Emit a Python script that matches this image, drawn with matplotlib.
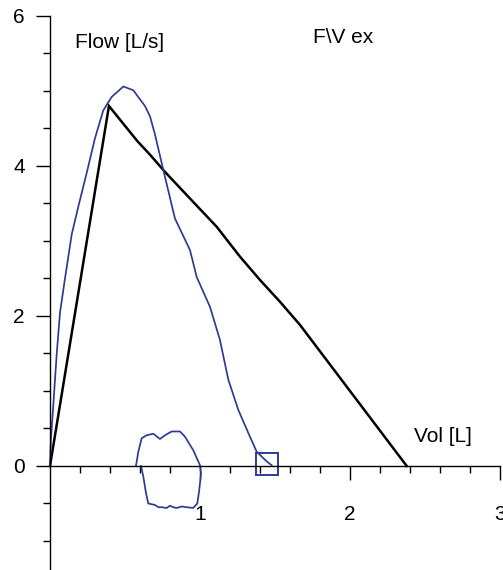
import numpy as np
import matplotlib
matplotlib.use('Agg')
import matplotlib.pyplot as plt

plt.rcParams['font.family'] = ['Liberation Sans', 'DejaVu Sans']

# measured expiratory curve (blue)
exp_vol = [0.0, 0.006, 0.022, 0.045, 0.067, 0.1, 0.145, 0.189, 0.245, 0.3, 0.355, 0.411,
           0.489, 0.555, 0.633, 0.667, 0.70, 0.755, 0.833, 0.933, 0.978, 1.067, 1.133,
           1.189, 1.255, 1.333, 1.378, 1.445, 1.478]
exp_flow = [0.0, 0.35, 0.81, 1.50, 2.05, 2.50, 3.09, 3.46, 3.91, 4.37, 4.74, 4.92,
            5.06, 5.01, 4.80, 4.66, 4.42, 3.95, 3.30, 2.88, 2.52, 2.12, 1.68,
            1.15, 0.75, 0.39, 0.19, 0.06, 0.01]

# small inspiratory loop (blue)
insp_vol = [0.573, 0.589, 0.611, 0.645, 0.689, 0.733, 0.767, 0.811, 0.867, 0.9, 0.955, 1.0,
            1.007, 0.995, 0.982, 0.955, 0.911, 0.878, 0.845, 0.822, 0.8, 0.778, 0.745,
            0.722, 0.7, 0.655, 0.64, 0.622, 0.607]
insp_flow = [0.0, 0.19, 0.37, 0.41, 0.43, 0.36, 0.41, 0.46, 0.46, 0.39, 0.21, 0.01,
             -0.10, -0.32, -0.50, -0.56, -0.55, -0.54, -0.56, -0.55, -0.53, -0.56, -0.55,
             -0.55, -0.52, -0.50, -0.36, -0.14, 0.0]

# predicted curve (black)
pred_vol = [0.0, 0.393, 0.583, 0.667, 0.767, 0.955, 1.111, 1.267, 1.4, 1.533, 1.667, 2.378]
pred_flow = [0.0, 4.80, 4.33, 4.15, 3.92, 3.52, 3.19, 2.79, 2.48, 2.19, 1.88, 0.0]

# end of expiration marker
end_vol = [1.449]
end_flow = [0.027]

x_major = [1, 2, 3]
x_minor = [0.2, 0.4, 0.6, 0.8, 1.2, 1.4, 1.6, 1.8, 2.2, 2.4, 2.6, 2.8]
y_major = [0, 2, 4, 6]
y_minor = [-1.0, -0.5, 0.5, 1.0, 1.5, 2.5, 3.0, 3.5, 4.5, 5.0, 5.5]

blue = '#2f3a93'

fig = plt.figure(figsize=(5.03, 5.70), dpi=100)
ax = fig.add_axes([0, 0, 1, 1])
ax.set_xlim(-0.3333, 3.02)
ax.set_ylim(-1.387, 6.213)

ax.plot(pred_vol, pred_flow, color='black', lw=1.8, solid_joinstyle='miter')
ax.plot(exp_vol, exp_flow, color=blue, lw=1.25, solid_joinstyle='round')
ax.plot(insp_vol, insp_flow, color=blue, lw=1.25, solid_joinstyle='round')
ax.plot(end_vol, end_flow, marker='s', ms=15.5, mfc='none', mec=blue, mew=1.4, ls='none')

for side in ['top', 'right']:
    ax.spines[side].set_visible(False)
ax.spines['left'].set_position(('data', 0))
ax.spines['bottom'].set_position(('data', 0))
ax.spines['left'].set_bounds(-1.387, 6)
ax.spines['bottom'].set_bounds(0, 3)
for side in ['left', 'bottom']:
    ax.spines[side].set_linewidth(1.0)

ax.set_xticks(x_major)
ax.set_xticks(x_minor, minor=True)
ax.set_yticks(y_major)
ax.set_yticks(y_minor, minor=True)
ax.tick_params(which='major', direction='out', length=10, width=1.0, labelsize=15)
ax.tick_params(which='minor', direction='out', length=5, width=1.0)
ax.tick_params(axis='x', which='major', pad=18)
ax.tick_params(axis='y', which='major', pad=8)

ax.text(0.167, 5.64, 'Flow [L/s]', fontsize=15, va='center', ha='left')
ax.text(1.751, 5.71, 'F\\V ex', fontsize=15, va='center', ha='left')
ax.text(2.427, 0.39, 'Vol [L]', fontsize=15, va='center', ha='left')

plt.savefig('out.png', dpi=100)
